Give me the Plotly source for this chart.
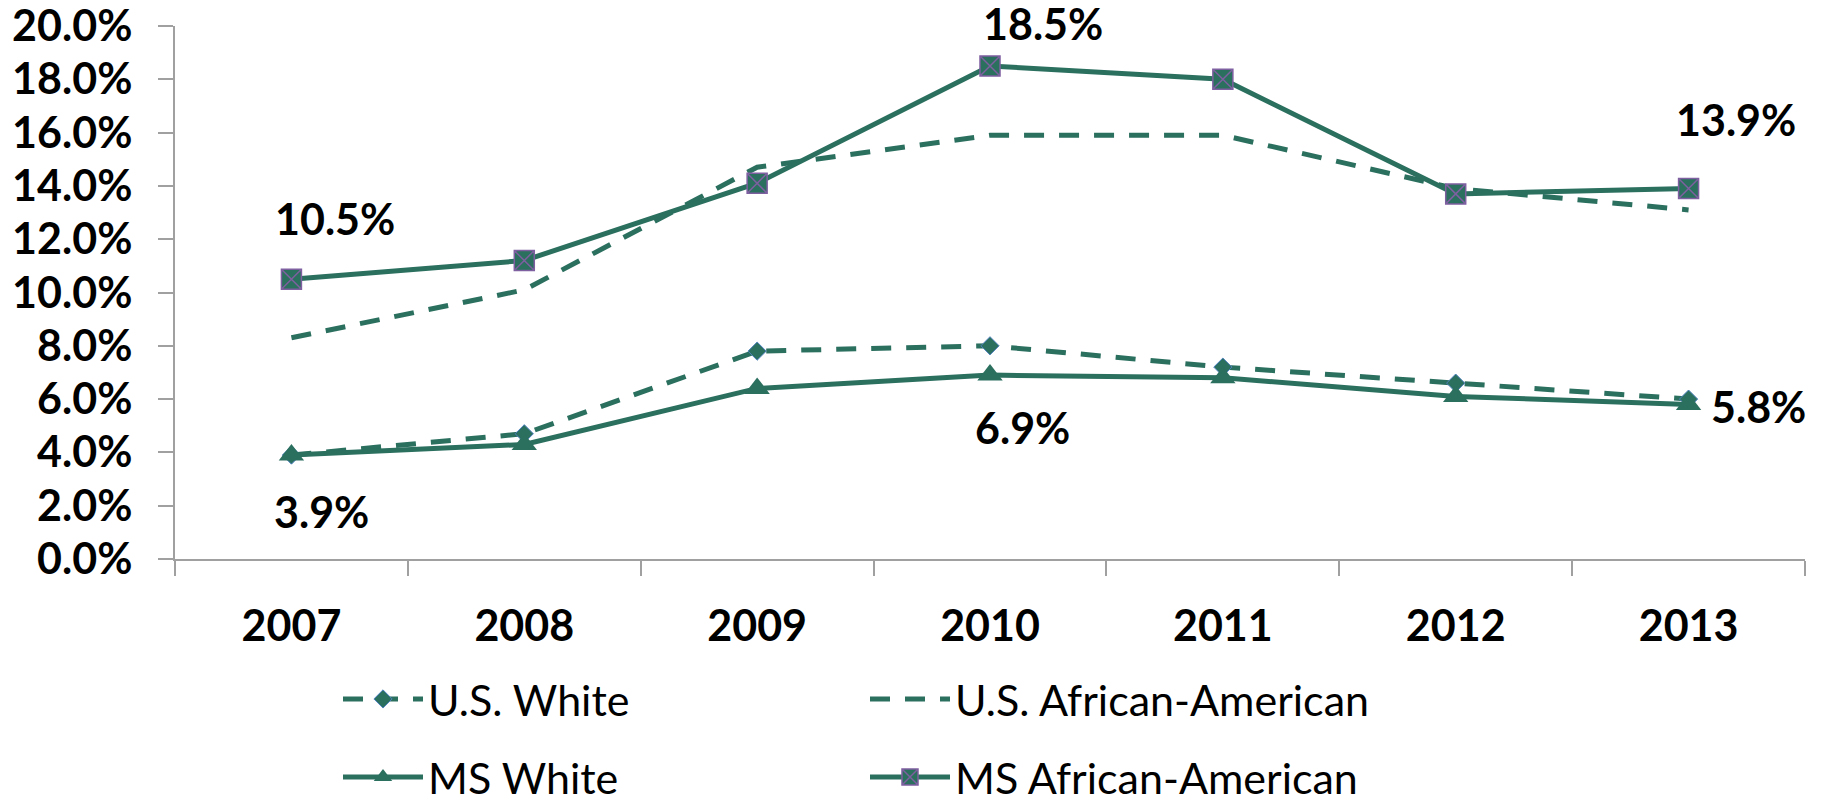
import plotly.graph_objects as go

years = ["2007", "2008", "2009", "2010", "2011", "2012", "2013"]
us_white = [0.039, 0.047, 0.078, 0.080, 0.072, 0.066, 0.060]
us_aa = [0.083, 0.101, 0.147, 0.159, 0.159, 0.139, 0.131]
ms_white = [0.039, 0.043, 0.064, 0.069, 0.068, 0.061, 0.058]
ms_aa = [0.105, 0.112, 0.141, 0.185, 0.180, 0.137, 0.139]

# labelled points: (series, year index, x offset, y offset)
labels = [
    (ms_aa, 0, 44, 61), (ms_aa, 3, 53, 42), (ms_aa, 6, 47, 69),
    (ms_white, 0, 30, -56), (ms_white, 3, 32, -52), (ms_white, 6, 70, -2),
]

GREEN = "#2B6F5F"
FONT = "Lato"
SIZE = 43

fig = go.Figure()
fig.add_trace(go.Scatter(
    x=years, y=us_white, name="U.S. White", mode="lines+markers",
    line=dict(color=GREEN, width=5, dash="20px,15px"),
    marker=dict(symbol="diamond", size=14, color=GREEN, line=dict(color="#4F81BD", width=1)),
    legend="legend",
))
fig.add_trace(go.Scatter(
    x=years, y=us_aa, name="U.S. African-American", mode="lines",
    line=dict(color=GREEN, width=5, dash="20px,15px"),
    legend="legend",
))
fig.add_trace(go.Scatter(
    x=years, y=ms_white, name="MS White", mode="lines+markers",
    line=dict(color=GREEN, width=5),
    marker=dict(symbol="triangle-up", size=22, color=GREEN),
    legend="legend2",
))
fig.add_trace(go.Scatter(
    x=years, y=ms_aa, name="MS African-American", mode="lines+markers",
    line=dict(color=GREEN, width=5),
    marker=dict(symbol="square-x", size=20, color=GREEN, line=dict(color="#7E5FA0", width=1.5)),
    legend="legend2",
))

for series, i, dx, dy in labels:
    # category index as x, so the annotation sits on the category slot
    fig.add_annotation(
        x=i, y=series[i], text=f"{series[i]*100:.1f}%", showarrow=False,
        xshift=dx, yshift=dy, font=dict(family=FONT, size=SIZE, color="black", weight="bold"),
    )

legend_common = dict(
    orientation="h", xref="paper", yref="container", x=0.1, xanchor="left", yanchor="middle",
    font=dict(family=FONT, size=SIZE, color="black"), entrywidth=432, itemwidth=80,
    bgcolor="rgba(0,0,0,0)",
)

fig.update_layout(
    width=1825, height=799,
    margin=dict(l=175, r=20, t=26, b=240, autoexpand=False),
    plot_bgcolor="white", paper_bgcolor="white",
    font=dict(family=FONT, size=SIZE, color="black"),
    legend=dict(y=1 - 699 / 799, **legend_common),
    legend2=dict(y=1 - 777 / 799, **legend_common),
    xaxis=dict(
        type="category", tickangle=0, range=[-0.5, 6.5],
        showline=True, linecolor="#A0A0A0", linewidth=2, showgrid=False,
        ticks="outside", tickson="boundaries", ticklen=15, tickcolor="#A0A0A0", tickwidth=2,
        tickfont=dict(family=FONT, size=SIZE, color="black", weight="bold"),
        ticklabelstandoff=28,
    ),
    yaxis=dict(
        range=[0, 0.2], dtick=0.02, tickformat=".1%", ticklabeloverflow="allow",
        showline=True, linecolor="#A0A0A0", linewidth=2, showgrid=False, zeroline=False,
        ticks="outside", ticklen=15, tickcolor="#A0A0A0", tickwidth=2,
        tickfont=dict(family=FONT, size=SIZE, color="black", weight="bold"),
        ticklabelstandoff=17,
    ),
)

fig.write_html("out.html", config={"displayModeBar": False},
               post_script="document.body.style.margin = '0';")
